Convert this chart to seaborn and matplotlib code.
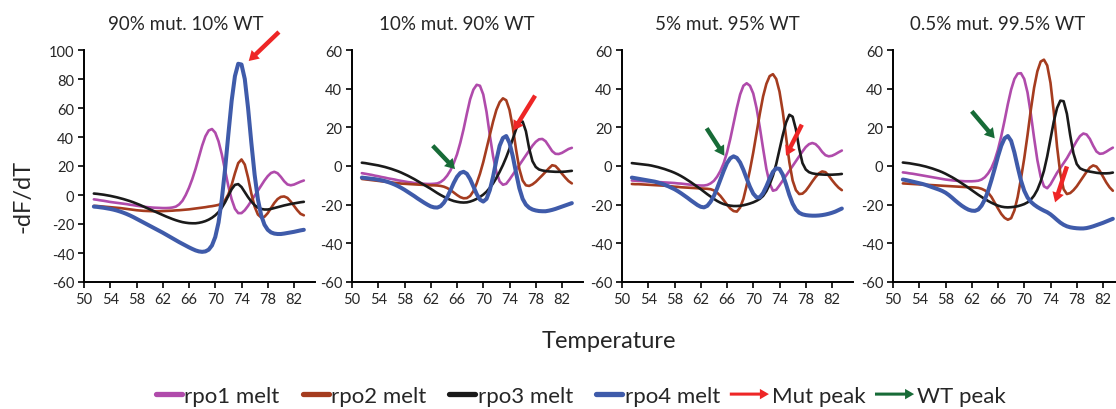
import numpy as np
import pandas as pd
import matplotlib
matplotlib.use("Agg")
import matplotlib.pyplot as plt
from matplotlib.lines import Line2D
from matplotlib.patches import FancyArrow, Patch
import seaborn as sns

# ---------------------------------------------------------------- data
temperature = np.arange(51.5, 84.0, 0.5)

series_names = ["rpo1 melt", "rpo2 melt", "rpo3 melt", "rpo4 melt"]
panel_titles = ["90% mut. 10% WT", "10% mut. 90% WT", "5% mut. 95% WT", "0.5% mut. 99.5% WT"]

# 90% mutant / 10% wild type
p1_rpo1 = [-3.0, -3.3, -3.7, -4.0, -4.4, -4.8, -5.1, -5.4, -5.7, -6.0,
           -6.3, -6.7, -7.0, -7.4, -7.7, -8.0, -8.3, -8.5, -8.7, -8.8,
           -8.9, -9.0, -9.0, -8.9, -8.6, -8.0, -6.5, -4.0, 0.0, 5.0,
           11.0, 18.0, 26.0, 34.0, 40.5, 44.5, 45.5, 43.0, 37.0, 28.0,
           17.0, 6.0, -3.0, -9.5, -12.5, -12.5, -10.5, -7.5, -4.0, -0.5,
           3.0, 6.5, 10.0, 13.0, 15.2, 16.0, 15.0, 12.5, 9.5, 7.3,
           6.7, 7.2, 8.2, 9.2, 10.0]
p1_rpo2 = [-7.5, -7.6, -7.8, -8.0, -8.2, -8.4, -8.6, -8.8, -9.0, -9.3,
           -9.6, -9.9, -10.2, -10.5, -10.7, -10.9, -11.0, -11.1, -11.2, -11.2,
           -11.2, -11.1, -11.0, -10.9, -10.8, -10.6, -10.5, -10.3, -10.1, -9.9,
           -9.6, -9.3, -9.0, -8.7, -8.4, -8.0, -7.7, -7.3, -6.8, -5.8,
           -3.5, 0.5, 7.0, 15.0, 22.0, 24.5, 21.0, 12.0, 1.0, -8.0,
           -13.5, -15.5, -15.0, -12.5, -9.0, -5.5, -2.8, -1.3, -1.0, -2.0,
           -4.5, -7.5, -10.5, -13.0, -14.0]
p1_rpo3 = [1.0, 0.8, 0.5, 0.2, -0.2, -0.6, -1.1, -1.6, -2.2, -2.8,
           -3.5, -4.2, -5.0, -5.9, -6.8, -7.8, -8.8, -9.8, -10.8, -11.8,
           -12.8, -13.8, -14.8, -15.7, -16.6, -17.4, -18.1, -18.7, -19.1, -19.4,
           -19.5, -19.5, -19.2, -18.7, -18.0, -17.0, -15.7, -14.0, -11.8, -8.8,
           -5.0, -0.5, 4.0, 7.0, 7.5, 5.5, 2.0, -1.5, -4.5, -7.0,
           -8.7, -9.6, -10.0, -10.0, -9.6, -9.0, -8.4, -7.8, -7.2, -6.7,
           -6.2, -5.8, -5.4, -5.0, -4.7]
p1_rpo4 = [-8.0, -8.2, -8.5, -8.8, -9.2, -9.6, -10.1, -10.7, -11.4, -12.2,
           -13.1, -14.1, -15.2, -16.4, -17.6, -18.8, -20.0, -21.2, -22.4, -23.6,
           -24.8, -26.0, -27.3, -28.6, -29.9, -31.2, -32.5, -33.7, -34.9, -36.1,
           -37.2, -38.2, -38.9, -39.2, -38.9, -37.7, -34.8, -29.0, -19.0, -3.0,
           18.0, 42.0, 65.0, 82.0, 90.5, 90.0, 80.0, 60.0, 36.0, 14.0,
           -3.0, -14.0, -20.5, -24.0, -25.8, -26.6, -26.9, -26.9, -26.6, -26.2,
           -25.8, -25.4, -24.9, -24.4, -24.0]

# 10% mutant / 90% wild type
p2_rpo1 = [-3.7, -4.0, -4.3, -4.6, -5.0, -5.3, -5.7, -6.0, -6.4, -6.7,
           -7.0, -7.4, -7.7, -8.0, -8.3, -8.5, -8.8, -9.0, -9.1, -9.2,
           -9.3, -9.3, -9.2, -9.0, -8.3, -7.0, -5.0, -2.3, 1.5, 6.0,
           12.0, 19.0, 27.0, 34.5, 39.5, 42.0, 41.5, 37.0, 28.0, 16.0,
           5.0, -3.0, -8.0, -9.7, -9.2, -7.0, -4.5, -2.0, 0.5, 3.0,
           5.5, 8.0, 10.5, 12.5, 13.8, 14.0, 12.8, 10.3, 7.7, 6.3,
           6.2, 6.8, 7.8, 8.8, 9.4]
p2_rpo2 = [-6.7, -6.9, -7.1, -7.3, -7.5, -7.7, -7.9, -8.1, -8.3, -8.5,
           -8.7, -8.9, -9.1, -9.2, -9.3, -9.4, -9.5, -9.6, -9.7, -9.8,
           -9.9, -10.0, -10.0, -10.1, -10.3, -10.7, -11.4, -12.4, -13.7, -15.0,
           -16.1, -16.7, -16.6, -15.5, -13.0, -9.0, -4.0, 2.0, 9.0, 16.0,
           23.0, 29.0, 33.0, 35.0, 34.0, 29.0, 20.0, 8.5, -1.5, -7.5,
           -10.0, -10.3, -9.5, -8.2, -6.5, -4.8, -3.0, -1.2, 0.4, 0.0,
           -1.8, -4.0, -6.0, -7.8, -9.0]
p2_rpo3 = [1.7, 1.5, 1.2, 0.9, 0.6, 0.3, -0.1, -0.5, -1.0, -1.5,
           -2.1, -2.7, -3.4, -4.2, -5.0, -5.9, -6.8, -7.8, -8.8, -9.8,
           -10.8, -11.8, -12.9, -14.0, -15.0, -15.9, -16.8, -17.5, -18.1, -18.5,
           -18.8, -18.9, -18.8, -18.4, -17.8, -17.0, -16.0, -14.8, -13.3, -11.3,
           -9.0, -6.2, -3.0, 0.5, 4.5, 9.0, 14.0, 19.0, 22.5, 23.0,
           18.0, 9.0, 2.5, -0.5, -1.8, -2.3, -2.6, -2.8, -2.9, -3.0,
           -3.0, -3.0, -2.9, -2.7, -2.5]
p2_rpo4 = [-6.0, -6.2, -6.4, -6.6, -6.8, -7.1, -7.4, -7.8, -8.3, -8.9,
           -9.6, -10.4, -11.3, -12.3, -13.4, -14.5, -15.6, -16.8, -17.9, -19.0,
           -20.0, -20.9, -21.4, -21.5, -20.8, -19.0, -16.2, -12.6, -8.8, -5.6,
           -3.6, -3.0, -4.0, -6.8, -10.6, -14.5, -17.4, -18.4, -17.0, -12.5,
           -5.5, 3.0, 10.5, 14.5, 15.5, 12.0, 5.0, -3.5, -11.5, -17.0,
           -20.0, -21.6, -22.5, -23.0, -23.3, -23.4, -23.4, -23.1, -22.7, -22.2,
           -21.6, -21.0, -20.4, -19.8, -19.2]

# 5% mutant / 95% wild type
p3_rpo1 = [-7.5, -7.6, -7.7, -7.8, -7.9, -8.0, -8.1, -8.2, -8.3, -8.4,
           -8.5, -8.6, -8.7, -8.8, -9.0, -9.1, -9.3, -9.5, -9.7, -9.9,
           -10.0, -10.1, -10.1, -9.8, -9.0, -7.7, -5.5, -2.5, 1.5, 7.0,
           14.0, 22.0, 30.0, 37.0, 41.5, 42.8, 41.5, 37.5, 30.0, 20.0,
           9.0, -1.5, -9.0, -12.8, -12.3, -10.0, -7.5, -5.0, -2.5, 0.0,
           2.5, 5.0, 7.5, 9.8, 11.3, 11.9, 11.3, 9.6, 7.3, 5.6,
           5.0, 5.3, 6.1, 7.1, 8.0]
p3_rpo2 = [-9.3, -9.4, -9.4, -9.5, -9.6, -9.7, -9.8, -9.9, -10.0, -10.1,
           -10.2, -10.4, -10.5, -10.7, -10.8, -11.0, -11.1, -11.2, -11.3, -11.4,
           -11.5, -11.6, -11.7, -11.8, -12.0, -12.6, -13.8, -15.5, -17.7, -20.0,
           -22.0, -23.3, -23.6, -21.5, -17.0, -10.0, -2.0, 7.0, 17.0, 27.0,
           36.0, 42.5, 46.5, 47.5, 45.0, 38.5, 28.0, 15.0, 2.0, -7.5,
           -12.5, -14.5, -14.3, -12.8, -10.5, -8.0, -5.7, -3.8, -2.8, -3.2,
           -5.0, -7.3, -9.4, -11.2, -12.5]
p3_rpo3 = [1.5, 1.3, 1.1, 0.9, 0.7, 0.5, 0.2, -0.2, -0.6, -1.1,
           -1.6, -2.2, -2.8, -3.5, -4.3, -5.2, -6.2, -7.3, -8.4, -9.6,
           -10.8, -12.0, -13.3, -14.6, -15.8, -17.0, -18.1, -19.0, -19.7, -20.2,
           -20.5, -20.7, -20.7, -20.6, -20.3, -19.9, -19.4, -18.8, -18.0, -17.0,
           -15.5, -13.0, -9.5, -5.0, 1.0, 8.5, 16.0, 22.5, 26.5, 25.5,
           19.0, 9.0, 1.5, -1.8, -3.2, -3.8, -4.1, -4.3, -4.4, -4.5,
           -4.5, -4.5, -4.4, -4.3, -4.1]
p3_rpo4 = [-6.0, -6.3, -6.6, -6.9, -7.2, -7.5, -7.8, -8.1, -8.6, -9.1,
           -9.7, -10.4, -11.2, -12.0, -13.0, -14.1, -15.3, -16.5, -17.8, -19.0,
           -20.2, -21.1, -21.4, -20.6, -18.5, -15.5, -11.5, -7.0, -2.5, 1.5,
           4.0, 5.0, 4.2, 1.8, -2.0, -6.5, -10.8, -14.3, -16.2, -16.2,
           -14.0, -10.5, -6.5, -3.0, -1.2, -1.5, -4.5, -9.5, -15.0, -19.5,
           -22.5, -24.2, -25.0, -25.4, -25.6, -25.7, -25.7, -25.6, -25.4, -25.1,
           -24.7, -24.2, -23.6, -22.8, -22.0]

# 0.5% mutant / 99.5% wild type
p4_rpo1 = [-3.3, -3.5, -3.8, -4.0, -4.3, -4.6, -4.9, -5.2, -5.5, -5.8,
           -6.1, -6.4, -6.7, -7.0, -7.2, -7.4, -7.6, -7.7, -7.8, -7.9,
           -7.9, -7.9, -7.8, -7.6, -7.0, -5.8, -3.8, -1.0, 3.0, 8.5,
           15.5, 23.5, 32.0, 39.5, 45.0, 47.8, 48.0, 45.0, 38.0, 27.0,
           14.5, 3.0, -5.5, -10.5, -11.5, -9.5, -6.5, -3.5, -1.0, 1.5,
           4.0, 7.0, 10.0, 13.0, 15.5, 16.8, 16.3, 14.0, 10.5, 7.5,
           6.3, 6.5, 7.4, 8.5, 9.5]
p4_rpo2 = [-9.0, -9.1, -9.2, -9.3, -9.4, -9.5, -9.6, -9.7, -9.8, -9.9,
           -10.0, -10.1, -10.2, -10.3, -10.4, -10.5, -10.6, -10.7, -10.8, -10.9,
           -11.0, -11.0, -11.1, -11.3, -11.8, -12.6, -13.8, -16.0, -19.0, -22.0,
           -24.8, -26.8, -27.8, -27.0, -23.0, -16.0, -6.5, 4.0, 16.0, 29.0,
           40.5, 49.0, 54.0, 55.0, 52.0, 43.0, 28.0, 10.0, -4.0, -12.0,
           -14.5, -14.0, -12.5, -10.5, -8.0, -5.5, -3.0, -0.8, 0.3, -0.3,
           -2.5, -5.5, -8.5, -11.0, -12.8]
p4_rpo3 = [1.8, 1.6, 1.4, 1.1, 0.8, 0.5, 0.1, -0.3, -0.8, -1.3,
           -1.9, -2.5, -3.2, -4.0, -4.9, -5.8, -6.8, -7.9, -9.0, -10.1,
           -11.3, -12.5, -13.7, -14.9, -16.0, -17.1, -18.1, -19.0, -19.8, -20.5,
           -21.0, -21.3, -21.4, -21.3, -21.1, -20.8, -20.3, -19.7, -18.8, -17.4,
           -15.3, -12.3, -8.0, -2.5, 5.0, 14.0, 23.0, 30.0, 33.8, 33.5,
           27.0, 16.0, 6.5, 1.0, -1.2, -2.0, -2.5, -2.9, -3.2, -3.5,
           -3.7, -3.8, -3.8, -3.7, -3.4]
p4_rpo4 = [-7.0, -7.3, -7.7, -8.1, -8.5, -8.9, -9.3, -9.8, -10.4, -11.0,
           -11.6, -12.2, -12.9, -13.8, -15.0, -16.4, -17.9, -19.3, -20.6, -21.7,
           -22.6, -23.1, -23.2, -22.5, -20.5, -17.3, -12.8, -7.3, -1.3, 5.0,
           10.5, 14.3, 15.5, 13.0, 7.0, -0.5, -7.5, -12.8, -16.3, -18.5,
           -20.0, -21.2, -22.2, -23.1, -23.9, -25.0, -26.4, -27.9, -29.3, -30.4,
           -31.2, -31.7, -32.0, -32.2, -32.3, -32.3, -32.1, -31.7, -31.2, -30.6,
           -30.0, -29.4, -28.7, -28.0, -27.3]

panels = [
    [p1_rpo1, p1_rpo2, p1_rpo3, p1_rpo4],
    [p2_rpo1, p2_rpo2, p2_rpo3, p2_rpo4],
    [p3_rpo1, p3_rpo2, p3_rpo3, p3_rpo4],
    [p4_rpo1, p4_rpo2, p4_rpo3, p4_rpo4],
]

# peak markers: (tail T, tail value, tip T, tip value)
mut_peaks = [(79.7, 112.4, 75.1, 92.4), (77.9, 36.4, 74.6, 18.3),
             (77.4, 21.4, 75.0, 5.3), (76.5, -0.2, 74.7, -18.8)]
wt_peaks = [None, (62.3, 10.5, 65.7, -1.6),
            (62.9, 19.5, 65.6, 5.3), (62.0, 28.3, 65.5, 14.3)]

# ---------------------------------------------------------------- style
sns.set_style("white")
plt.rcParams["font.family"] = ["Lato", "DejaVu Sans"]
plt.rcParams["axes.unicode_minus"] = False

line_colors = ["#B04BAB", "#A53C1F", "#1A1A1A", "#3F5BAA"]
line_widths = [1.9, 1.9, 1.9, 2.9]
mut_color = "#EE2626"
wt_color = "#176B37"
text_color = "#262626"

fig = plt.figure(figsize=(11.16, 4.10), dpi=100)

W, H = 1116.0, 410.0
ax_lefts = [84, 352, 622, 893]
ax_width_px = 231
ax_top_px, ax_bottom_px = 51, 283
title_x = [0.44, 0.455, 0.455, 0.455]
ylims = [(-60, 100), (-60, 60), (-60, 60), (-60, 60)]

def arrow_props(color):
    return dict(arrowstyle="simple,head_length=0.7,head_width=0.85,tail_width=0.32",
                mutation_scale=10, color=color, shrinkA=0, shrinkB=0, lw=0)

first_lines = []
for i, series in enumerate(panels):
    ax = fig.add_axes([ax_lefts[i] / W, (H - ax_bottom_px) / H,
                       ax_width_px / W, (ax_bottom_px - ax_top_px) / H])
    for k, values in enumerate(series):
        df = pd.DataFrame({"Temperature": temperature, "dFdT": values})
        sns.lineplot(data=df, x="Temperature", y="dFdT", ax=ax,
                     color=line_colors[k], linewidth=line_widths[k],
                     sort=False, legend=False)
    if i == 0:
        first_lines = list(ax.lines)

    ax.set_xlim(50, 85.2)
    ax.set_ylim(*ylims[i])
    ax.set_xticks(np.arange(50, 83, 4))
    ax.set_yticks(np.arange(ylims[i][0], ylims[i][1] + 1, 20))
    ax.set_xlabel("")
    ax.set_ylabel("")
    for side in ("top", "right"):
        ax.spines[side].set_visible(False)
    for side in ("left", "bottom"):
        ax.spines[side].set_color("black")
        ax.spines[side].set_linewidth(1.4)
    ax.tick_params(axis="both", direction="out", length=4, width=1.2,
                   color="black", labelsize=10.5, labelcolor=text_color,
                   left=True, bottom=True, pad=3)
    ax.set_title(panel_titles[i], x=title_x[i], y=1.0, pad=15,
                 fontsize=13.5, color=text_color)

    tx, ty, hx, hy = mut_peaks[i]
    ax.annotate("", xy=(hx, hy), xytext=(tx, ty),
                arrowprops=arrow_props(mut_color), annotation_clip=False)
    if wt_peaks[i] is not None:
        tx, ty, hx, hy = wt_peaks[i]
        ax.annotate("", xy=(hx, hy), xytext=(tx, ty),
                    arrowprops=arrow_props(wt_color), annotation_clip=False)

fig.text(0.021, 0.52, "-dF/dT", rotation=90, ha="center", va="center",
         fontsize=17, color=text_color)
fig.text(0.546, 0.166, "Temperature", ha="center", va="center",
         fontsize=17, color=text_color)

# ---------------------------------------------------------------- legend
class SegmentHandler:
    """Short thick line drawn at the right end of the handle box."""

    def __init__(self, frac):
        self.frac = frac

    def legend_artist(self, legend, orig_handle, fontsize, handlebox):
        x0, y0 = handlebox.xdescent, handlebox.ydescent
        w, h = handlebox.width, handlebox.height
        seg = Line2D([x0 + w * (1 - self.frac), x0 + w], [y0 + h / 2] * 2,
                     color=orig_handle.get_color(), lw=3.8,
                     solid_capstyle="round", transform=handlebox.get_transform())
        handlebox.add_artist(seg)
        return seg


class ArrowHandler:
    """Horizontal arrow filling most of the handle box."""

    def __init__(self, offset):
        self.offset = offset

    def legend_artist(self, legend, orig_handle, fontsize, handlebox):
        x0, y0 = handlebox.xdescent, handlebox.ydescent
        w, h = handlebox.width, handlebox.height
        start = x0 + w * self.offset
        arr = FancyArrow(start, y0 + h / 2, x0 + w - start, 0, width=2.2,
                         head_width=7.5, head_length=6.5,
                         length_includes_head=True,
                         color=orig_handle.get_facecolor(), lw=0,
                         transform=handlebox.get_transform())
        handlebox.add_artist(arr)
        return arr


mut_proxy = Patch(color=mut_color)
wt_proxy = Patch(color=wt_color)
handles = first_lines + [mut_proxy, wt_proxy]
labels = series_names + ["Mut peak", "WT peak"]
handler_map = {ln: SegmentHandler(0.53) for ln in first_lines}
handler_map[mut_proxy] = ArrowHandler(0.2)
handler_map[wt_proxy] = ArrowHandler(0.2)

leg = fig.legend(handles, labels, handler_map=handler_map, loc="center",
                 bbox_to_anchor=(0.510, 0.032), ncol=6, frameon=False,
                 fontsize=16, handlelength=2.2, handletextpad=0.12,
                 columnspacing=0.0, borderaxespad=0)
for t in leg.get_texts():
    t.set_color(text_color)

fig.savefig("out.png", dpi=100)
